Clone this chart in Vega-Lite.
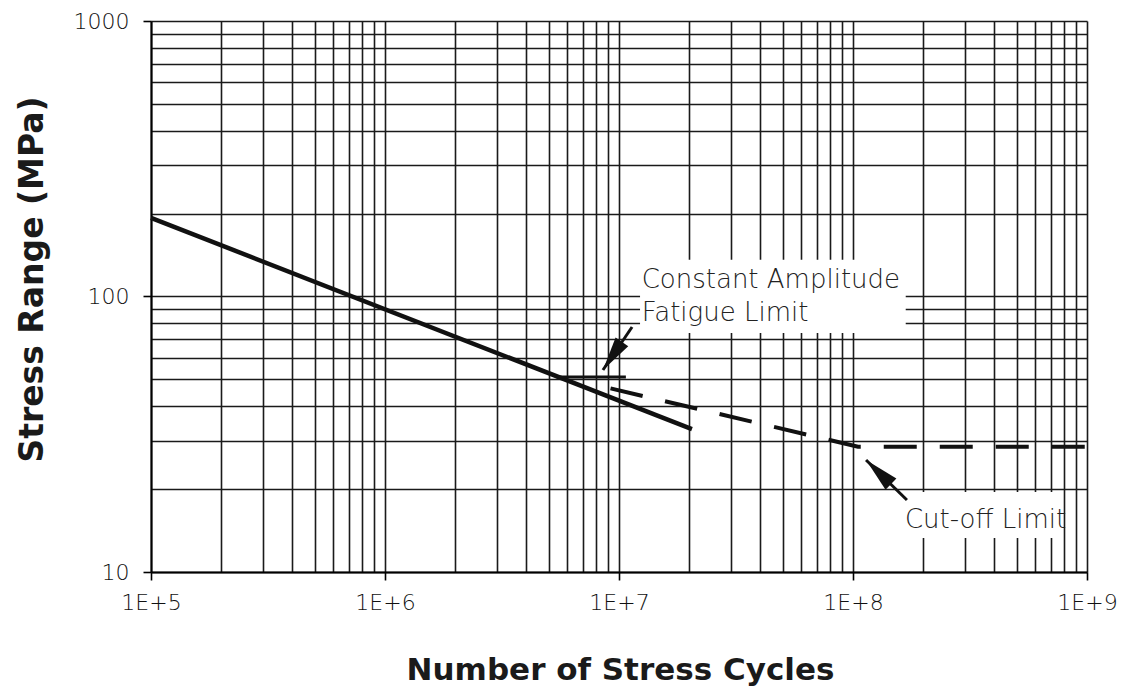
{
  "$schema": "https://vega.github.io/schema/vega-lite/v6.json",
  "width": 936,
  "height": 551,
  "autosize": {"type": "none"},
  "padding": {"left": 151, "top": 21, "right": 43, "bottom": 125},
  "background": "white",
  "config": {"view": {"stroke": null}},
  "datasets": {
    "solid": [{"N": 100000, "S": 193}, {"N": 20500000, "S": 33}],
    "cafl": [{"N": 5400000, "S": 51}, {"N": 10700000, "S": 51}],
    "dashed": [{"N": 9200000, "S": 46.4}, {"N": 105000000, "S": 28.5}, {"N": 1000000000, "S": 28.5}],
    "boxes": [
      {"N": 12300000, "N2": 168000000, "S": 73.7, "S2": 136},
      {"N": 151000000, "N2": 780000000, "S": 13.3, "S2": 19.5}
    ],
    "arrows": [
      {"N": 11370000, "S": 77.5, "N2": 8540000, "S2": 54.1},
      {"N": 170000000, "S": 18.25, "N2": 113700000, "S2": 25.5}
    ],
    "head1": [{"N": 8540000, "S": 54.1}],
    "head2": [{"N": 113700000, "S": 25.5}],
    "notes": [
      {"N": 12500000, "S": 107.4, "text": "Constant Amplitude"},
      {"N": 12500000, "S": 81.5, "text": "Fatigue Limit"},
      {"N": 166700000, "S": 14.45, "text": "Cut-off Limit"}
    ]
  },
  "encoding": {
    "x": {
      "field": "N",
      "type": "quantitative",
      "scale": {"type": "log", "domain": [100000, 1000000000], "nice": false},
      "axis": {
        "values": [100000, 200000, 300000, 400000, 500000, 600000, 700000, 800000, 900000,
                   1000000, 2000000, 3000000, 4000000, 5000000, 6000000, 7000000, 8000000, 9000000,
                   10000000, 20000000, 30000000, 40000000, 50000000, 60000000, 70000000, 80000000, 90000000,
                   100000000, 200000000, 300000000, 400000000, 500000000, 600000000, 700000000, 800000000, 900000000,
                   1000000000],
        "grid": true,
        "gridColor": "#1a1a1a",
        "gridWidth": 1.6,
        "gridOpacity": 1,
        "domainColor": "#000000",
        "domainWidth": 2,
        "tickSize": 8,
        "tickWidth": 1.6,
        "tickColor": {"condition": {"test": "datum.value == 100000 || datum.value == 1000000 || datum.value == 10000000 || datum.value == 100000000 || datum.value == 1000000000", "value": "#000000"}, "value": "rgba(0,0,0,0)"},
        "labelExpr": "datum.value == 100000 ? '1E+5' : datum.value == 1000000 ? '1E+6' : datum.value == 10000000 ? '1E+7' : datum.value == 100000000 ? '1E+8' : datum.value == 1000000000 ? '1E+9' : ''",
        "labelFont": "DejaVu Sans",
        "labelFontWeight": 300,
        "labelFontSize": 22,
        "labelColor": "#111111",
        "labelPadding": 12,
        "labelFlush": false,
        "labelOverlap": false,
        "labelBaseline": "top",
        "title": "Number of Stress Cycles",
        "titleFont": "DejaVu Sans",
        "titleFontWeight": "bold",
        "titleFontSize": 31,
        "titleColor": "#1a1a1a",
        "titleX": 469,
        "titleY": 98,
        "titleAlign": "center",
        "titleBaseline": "middle"
      }
    },
    "y": {
      "field": "S",
      "type": "quantitative",
      "scale": {"type": "log", "domain": [10, 1000], "nice": false},
      "axis": {
        "values": [10, 20, 30, 40, 50, 60, 70, 80, 90, 100, 200, 300, 400, 500, 600, 700, 800, 900, 1000],
        "grid": true,
        "gridColor": "#1a1a1a",
        "gridWidth": 1.6,
        "gridOpacity": 1,
        "domainColor": "#000000",
        "domainWidth": 2,
        "tickSize": 8,
        "tickWidth": 1.6,
        "tickColor": {"condition": {"test": "datum.value == 10 || datum.value == 100 || datum.value == 1000", "value": "#000000"}, "value": "rgba(0,0,0,0)"},
        "labelExpr": "(datum.value == 10 || datum.value == 100 || datum.value == 1000) ? ('' + datum.value) : ''",
        "labelFont": "DejaVu Sans",
        "labelFontWeight": 300,
        "labelFontSize": 22,
        "labelColor": "#111111",
        "labelPadding": 14,
        "labelFlush": false,
        "labelOverlap": false,
        "title": "Stress Range (MPa)",
        "titleFont": "DejaVu Sans",
        "titleFontWeight": "bold",
        "titleFontSize": 33,
        "titleColor": "#1a1a1a",
        "titleX": -119,
        "titleY": 258,
        "titleAngle": -90,
        "titleAlign": "center",
        "titleBaseline": "middle"
      }
    }
  },
  "layer": [
    {
      "data": {"name": "boxes"},
      "mark": {"type": "rect", "fill": "white", "stroke": null},
      "encoding": {"x2": {"field": "N2"}, "y2": {"field": "S2"}}
    },
    {
      "data": {"name": "solid"},
      "mark": {"type": "line", "color": "#111111", "strokeWidth": 4.5}
    },
    {
      "data": {"name": "cafl"},
      "mark": {"type": "line", "color": "#111111", "strokeWidth": 3}
    },
    {
      "data": {"name": "dashed"},
      "mark": {"type": "line", "color": "#111111", "strokeWidth": 4, "strokeDash": [33, 23]}
    },
    {
      "data": {"name": "arrows"},
      "mark": {"type": "rule", "color": "#111111", "strokeWidth": 3},
      "encoding": {"x2": {"field": "N2"}, "y2": {"field": "S2"}}
    },
    {
      "data": {"name": "head1"},
      "mark": {"type": "point", "shape": "M0,0L0.45,2L-0.45,2Z", "filled": true, "color": "#111111", "opacity": 1, "size": 1150, "angle": 214}
    },
    {
      "data": {"name": "head2"},
      "mark": {"type": "point", "shape": "M0,0L0.45,2L-0.45,2Z", "filled": true, "color": "#111111", "opacity": 1, "size": 1200, "angle": 314}
    },
    {
      "data": {"name": "notes"},
      "mark": {"type": "text", "align": "left", "baseline": "alphabetic", "font": "DejaVu Sans", "fontWeight": 300, "fontSize": 26, "color": "#222222"},
      "encoding": {"text": {"field": "text", "type": "nominal"}}
    }
  ]
}
